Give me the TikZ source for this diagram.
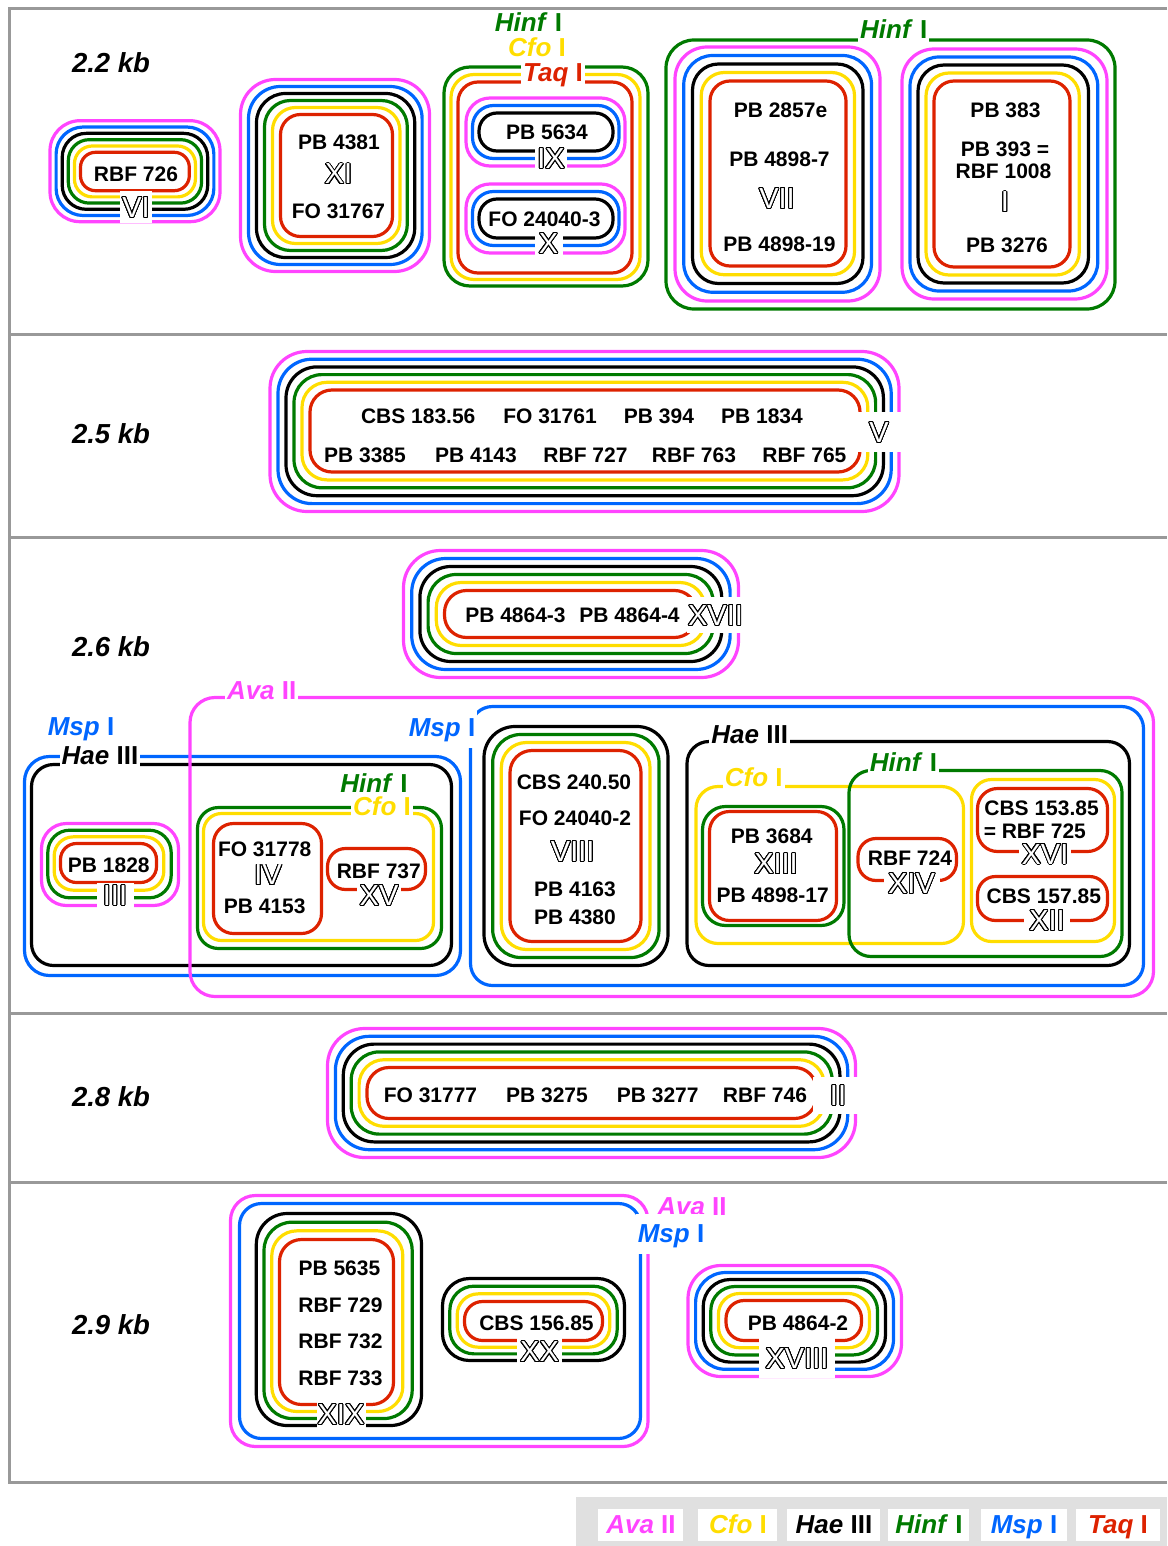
\documentclass[tikz,border=0pt]{standalone}
\usepackage{fontspec}
\setmainfont{Liberation Sans}
\newfontfamily\numfont{Liberation Sans}
\usepackage{contour}
\contourlength{0.9pt}
\contournumber{32}

\definecolor{cava}{RGB}{255,68,255}
\definecolor{ccfo}{RGB}{255,221,0}
\definecolor{chae}{RGB}{0,0,0}
\definecolor{chinf}{RGB}{0,122,0}
\definecolor{cmsp}{RGB}{0,102,255}
\definecolor{ctaq}{RGB}{221,34,0}
\definecolor{framegray}{RGB}{153,153,153}
\definecolor{legendbg}{RGB}{224,224,224}

\tikzset{
  ring/.style={line width=3.2pt},
  framerule/.style={line width=3pt, draw=framegray},
  lbl/.style={font=\fontsize{21}{21}\selectfont\bfseries, text height=15pt, text depth=0pt, inner sep=0pt},
  kb/.style={font=\fontsize{27.5}{28}\selectfont\bfseries\itshape, text height=19.7pt, text depth=0pt, inner sep=0pt},
  enzlbl/.style={font=\fontsize{26}{26}\selectfont\bfseries, text height=18.6pt, text depth=0pt, inner xsep=2pt, inner ysep=5pt},
  numeral/.style={font=\fontsize{29}{29}\selectfont, text height=20.8pt, text depth=0pt, inner sep=0pt, fill=white},
  legendbox/.style={fill=white, draw=none}
}

% enzyme name: italic genus part, upright numeral
\newcommand\enzname[2]{\textit{#1} #2}
% hollow roman numeral
\newcommand\hollow[1]{{\numfont\color{white}\contour{black}{#1}}}

% nested rounded frames, interpolated from the inner to the outer rectangle
% \nest{inner radius}{colours, inner to outer}(inner x1,y1)(inner x2,y2)(outer x1,y1)(outer x2,y2)
\newcommand\nest[2]{\def\nestr{#1}\edef\nestc{#2}\nestaux}
\def\nestaux(#1,#2)(#3,#4)(#5,#6)(#7,#8){%
  \foreach \nc [count=\nk] in \nestc {\xdef\nestn{\nk}}%
  \foreach \nc [count=\nk from 0] in \nestc {%
    \pgfmathsetmacro\nestt{\nk/max(\nestn-1,1)}%
    \pgfmathsetmacro\nestax{#1+(#5-(#1))*\nestt}%
    \pgfmathsetmacro\nestay{#2+(#6-(#2))*\nestt}%
    \pgfmathsetmacro\nestbx{#3+(#7-(#3))*\nestt}%
    \pgfmathsetmacro\nestby{#4+(#8-(#4))*\nestt}%
    \pgfmathsetmacro\nestrr{\nestr+3*\nk}%
    \draw[ring, draw=\nc, rounded corners=\nestrr pt] (\nestax,\nestay) rectangle (\nestbx,\nestby);
  }}

\def\allsix{ctaq,ccfo,chinf,chae,cmsp,cava}

\begin{document}
\begin{tikzpicture}[x=1pt,y=-1pt]
\useasboundingbox (0,0) rectangle (1167,1546);

% ---------- frame and band separators ----------
\draw[framerule] (1167,9) -- (9,9) -- (9,1482) -- (1167,1482);
\foreach \yy in {334,537,1013,1182} \draw[framerule] (9,\yy) -- (1167,\yy);

% ---------- band 2.2 kb ----------
\nest{15}{\allsix}(80.5,152.3)(189.3,190.7)(50,120.7)(220,221.7)
\nest{20}{\allsix}(280.5,114.5)(392.5,236.5)(240.5,79.5)(429.5,271.5)
\nest{20}{ctaq,ccfo,chinf}(458,82)(632,273)(444,67)(648,286)
\nest{18}{chae,cmsp,cava}(479,113)(613,151)(466,98)(625,166)
\nest{18}{chae,cmsp,cava}(479,199)(613,238)(466,184)(625,253)
\draw[ring, draw=chinf, rounded corners=28pt] (666,40) rectangle (1115,309);
\nest{20}{ctaq,ccfo,chae,cmsp,cava}(710,81)(846,266)(675,47)(880,301)
\nest{20}{ctaq,ccfo,chae,cmsp,cava}(934,81)(1070,267)(902,49)(1107,299)

% ---------- band 2.5 kb ----------
\nest{22}{\allsix}(310,390)(860,472)(270,351.5)(899,511.5)

% ---------- band 2.6 kb ----------
\nest{22}{\allsix}(444.5,590.5)(696.5,637.5)(403.5,550.5)(738.5,677.5)
\nest{22}{chae,cmsp}(31.5,764.5)(451.5,965.5)(24.5,756.5)(460.5,975.5)
\nest{16}{ctaq,ccfo,chinf,cava}(60.5,843.5)(156.5,882.5)(41.5,823.5)(178.5,905.5)
\draw[ring, draw=cava, rounded corners=25pt] (190,697.5) rectangle (1153.5,996.5);
\nest{18}{ccfo,chinf}(203.5,813.5)(433.5,940.5)(197.5,807.5)(441.5,948.5)
\draw[ring, draw=ctaq, rounded corners=20pt] (213.5,823.5) rectangle (321.5,933.5);
\draw[ring, draw=ctaq, rounded corners=18pt] (327.5,848.5) rectangle (425.5,889.5);
\draw[ring, draw=cmsp, rounded corners=22pt] (470.5,706.5) rectangle (1143.5,985.5);
\nest{22}{ctaq,ccfo,chinf,chae}(510,750.5)(641,941.5)(484,726.5)(668,965.5)
\draw[ring, draw=chae, rounded corners=22pt] (687,741.5) rectangle (1129.5,965.5);
\draw[ring, draw=ccfo, rounded corners=22pt] (696,786.5) rectangle (963.5,943.5);
\draw[ring, draw=chinf, rounded corners=22pt] (849,770.5) rectangle (1122,956.5);
\nest{20}{ctaq,chinf}(709.5,811.5)(836.5,920.5)(702.5,806.5)(844,925.5)
\draw[ring, draw=ctaq, rounded corners=18pt] (858,838.5) rectangle (956.5,880.5);
\draw[ring, draw=ccfo, rounded corners=20pt] (971.5,779.5) rectangle (1114.5,941.5);
\draw[ring, draw=ctaq, rounded corners=20pt] (977.5,788.5) rectangle (1107.5,851.5);
\draw[ring, draw=ctaq, rounded corners=18pt] (977.5,876.5) rectangle (1107.5,920.5);

% ---------- band 2.8 kb ----------
\nest{22}{\allsix}(367,1067.5)(816.5,1118.5)(327.5,1028.5)(855.5,1157.5)

% ---------- band 2.9 kb ----------
\nest{22}{cmsp,cava}(239.5,1203.5)(640.5,1438.5)(230.5,1195.5)(648,1446.5)
\nest{22}{ctaq,ccfo,chinf,chae}(279.5,1239.5)(393.5,1404.5)(256.3,1213.5)(421.5,1425.5)
\nest{18}{ctaq,ccfo,chinf,chae}(464.5,1301.5)(602.5,1340.5)(442.5,1278.5)(624.5,1360.5)
\nest{18}{\allsix}(726,1300.5)(861.5,1340.5)(688,1265.5)(901.5,1376.5)

% ---------- band labels ----------
\node[kb] (kb22) at (111,63) {2.2 kb};
\node[kb] (kb25) at (111,434) {2.5 kb};
\node[kb] (kb26) at (111,647) {2.6 kb};
\node[kb] (kb28) at (111,1097) {2.8 kb};
\node[kb] (kb29) at (111,1325) {2.9 kb};

% ---------- texts, band 2.2 kb ----------
\node[lbl] (rbf726) at (136,174) {RBF 726};
\node[numeral, minimum width=32pt, minimum height=32pt] (nVI) at (136,207) {\hollow{VI}};
\node[lbl] (pb4381) at (339,142.5) {PB 4381};
\node[numeral] (nXI) at (338.5,173.5) {\hollow{XI}};
\node[lbl] (fo31767) at (338.5,211) {FO 31767};
\node[lbl] (pb5634) at (547,132) {PB 5634};
\node[numeral, minimum width=32pt, minimum height=24pt] (nIX) at (551,158) {\hollow{IX}};
\node[lbl] (fo240403) at (544.5,219.5) {FO 24040-3};
\node[numeral, minimum width=28pt, minimum height=26pt] (nX) at (548.5,243) {\hollow{X}};
\node[enzlbl, text=ctaq, fill=white] (taqA) at (553,72) {\enzname{Taq}{I}};
\node[enzlbl, text=ccfo] (cfoA) at (537,47) {\enzname{Cfo}{I}};
\node[enzlbl, text=chinf] (hinfA) at (528.5,22.7) {\enzname{Hinf}{I}};
\node[enzlbl, text=chinf, fill=white] (hinfB) at (893.7,29.5) {\enzname{Hinf}{I}};
\node[lbl] (pb2857e) at (780.5,110.5) {PB 2857e};
\node[lbl] (pb48987) at (779.5,159) {PB 4898-7};
\node[numeral] (nVII) at (777,198) {\hollow{VII}};
\node[lbl] (pb489819) at (779.5,244) {PB 4898-19};
\node[lbl] (pb383) at (1005.5,110.5) {PB 383};
\node[lbl] (pb393) at (1005,149.5) {PB 393 =};
\node[lbl] (rbf1008) at (1003.5,171) {RBF 1008};
\node[numeral] (nI) at (1005,201.5) {\hollow{I}};
\node[lbl] (pb3276) at (1007,244.5) {PB 3276};

% ---------- texts, band 2.5 kb ----------
\node[lbl] (cbs18356) at (418.2,416.3) {CBS 183.56};
\node[lbl] (fo31761) at (550,416.3) {FO 31761};
\node[lbl] (pb394) at (659,416.3) {PB 394};
\node[lbl] (pb1834) at (762,416.3) {PB 1834};
\node[lbl] (pb3385) at (365,454.5) {PB 3385};
\node[lbl] (pb4143) at (476,454.5) {PB 4143};
\node[lbl] (rbf727) at (585.5,454.5) {RBF 727};
\node[lbl] (rbf763) at (694,454.5) {RBF 763};
\node[lbl] (rbf765) at (804.4,454.5) {RBF 765};
\node[numeral, minimum width=44pt, minimum height=40pt] (nV) at (879,432) {\hollow{V}};

% ---------- texts, band 2.6 kb ----------
\node[lbl] (pb48643) at (515.5,615) {PB 4864-3};
\node[lbl] (pb48644) at (629.5,615) {PB 4864-4};
\node[numeral, minimum width=57pt, minimum height=36pt] (nXVII) at (715.5,615) {\hollow{XVII}};

\node[enzlbl, text=cmsp] (mspA) at (81,726) {\enzname{Msp}{I}};
\node[enzlbl, text=chae, fill=white] (haeA) at (100,755) {\enzname{Hae}{III}};
\node[lbl] (pb1828) at (108.8,864.7) {PB 1828};
\node[numeral, minimum width=37pt, minimum height=25pt] (nIII) at (115,895) {\hollow{III}};

\node[enzlbl, text=cava, fill=white] (avaA) at (261.7,690.5) {\enzname{Ava}{II}};
\node[enzlbl, text=ccfo, fill=white, inner ysep=2pt] (cfoB) at (382,806.5) {\enzname{Cfo}{I}};
\node[enzlbl, text=chinf] (hinfC) at (374,783.3) {\enzname{Hinf}{I}};
\node[lbl] (fo31778) at (264.7,848.7) {FO 31778};
\node[numeral] (nIV) at (268,874.5) {\hollow{IV}};
\node[lbl] (pb4153) at (264.7,905.5) {PB 4153};
\node[lbl] (rbf737) at (378.8,870.8) {RBF 737};
\node[numeral, minimum width=44pt, minimum height=26pt] (nXV) at (379,895) {\hollow{XV}};

\node[enzlbl, text=cmsp, fill=white, minimum height=40pt] (mspB) at (442,727.5) {\enzname{Msp}{I}};
\node[lbl] (cbs24050) at (574,781.7) {CBS 240.50};
\node[lbl] (fo240402) at (575,817.5) {FO 24040-2};
\node[numeral] (nVIII) at (572.7,851) {\hollow{VIII}};
\node[lbl] (pb4163) at (575,888.7) {PB 4163};
\node[lbl] (pb4380) at (575,917) {PB 4380};

\node[enzlbl, text=chae, fill=white] (haeB) at (749.7,734.5) {\enzname{Hae}{III}};
\node[enzlbl, text=ccfo, fill=white] (cfoC) at (753.7,777) {\enzname{Cfo}{I}};
\node[enzlbl, text=chinf, fill=white] (hinfD) at (903.5,761.8) {\enzname{Hinf}{I}};
\node[lbl] (pb3684) at (771.8,836) {PB 3684};
\node[numeral] (nXIII) at (776,863.3) {\hollow{XIII}};
\node[lbl] (pb489817) at (772.7,894.7) {PB 4898-17};
\node[lbl] (rbf724) at (910,858) {RBF 724};
\node[numeral, minimum width=56pt, minimum height=24pt] (nXIV) at (911.5,883) {\hollow{XIV}};
\node[lbl] (cbs15385) at (1041.6,808) {CBS 153.85};
\node[lbl] (rbf725) at (1034.8,830.5) {= RBF 725};
\node[numeral, minimum width=52pt, minimum height=24pt] (nXVI) at (1045,853.7) {\hollow{XVI}};
\node[lbl] (cbs15785) at (1043.8,896.2) {CBS 157.85};
\node[numeral, minimum width=46pt, minimum height=24pt] (nXII) at (1047,920) {\hollow{XII}};

% ---------- texts, band 2.8 kb ----------
\node[lbl] (fo31777) at (430.5,1095.2) {FO 31777};
\node[lbl] (pb3275) at (547,1095.2) {PB 3275};
\node[lbl] (pb3277) at (657.7,1095.2) {PB 3277};
\node[lbl] (rbf746) at (765,1095.2) {RBF 746};
\node[numeral, minimum width=50pt, minimum height=37pt] (nII) at (838,1095) {\hollow{II}};

% ---------- texts, band 2.9 kb ----------
\node[lbl] (pb5635) at (339.4,1268) {PB 5635};
\node[lbl] (rbf729) at (340.5,1305) {RBF 729};
\node[lbl] (rbf732) at (340.5,1340.8) {RBF 732};
\node[lbl] (rbf733) at (340.5,1377.5) {RBF 733};
\node[numeral, minimum width=49pt, minimum height=28pt] (nXIX) at (341,1414) {\hollow{XIX}};
\node[lbl] (cbs15685) at (536.5,1322.5) {CBS 156.85};
\node[numeral, minimum width=45pt, minimum height=26pt] (nXX) at (539.5,1351.3) {\hollow{XX}};
\node[lbl] (pb48642) at (798,1322.5) {PB 4864-2};
\node[numeral, minimum width=76pt, minimum height=40pt] (nXVIII) at (797,1358) {\hollow{XVIII}};
\node[enzlbl, text=cava] (avaB) at (692,1205.7) {\enzname{Ava}{II}};
\node[enzlbl, text=cmsp, fill=white, minimum height=40pt] (mspC) at (671,1233.5) {\enzname{Msp}{I}};

% ---------- legend ----------
\fill[legendbg] (576,1497) rectangle (1167,1546);
\fill[legendbox] (598,1509) rectangle (683,1541);
\fill[legendbox] (698,1509) rectangle (777,1541);
\fill[legendbox] (787,1509) rectangle (880,1541);
\fill[legendbox] (888,1509) rectangle (969,1541);
\fill[legendbox] (981,1509) rectangle (1067,1541);
\fill[legendbox] (1076,1509) rectangle (1160,1541);
\node[enzlbl, text=cava] (legava) at (641,1524) {\enzname{Ava}{II}};
\node[enzlbl, text=ccfo] (legcfo) at (738,1524) {\enzname{Cfo}{I}};
\node[enzlbl, text=chae] (leghae) at (834,1524) {\enzname{Hae}{III}};
\node[enzlbl, text=chinf] (leghinf) at (929,1524) {\enzname{Hinf}{I}};
\node[enzlbl, text=cmsp] (legmsp) at (1024,1524) {\enzname{Msp}{I}};
\node[enzlbl, text=ctaq] (legtaq) at (1118,1524) {\enzname{Taq}{I}};
\end{tikzpicture}
\end{document}
